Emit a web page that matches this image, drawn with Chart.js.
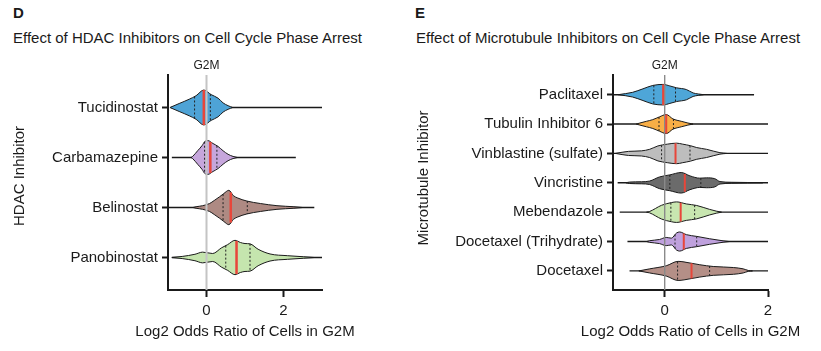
<!DOCTYPE html>
<html>
<head>
<meta charset="utf-8">
<script src="https://cdn.jsdelivr.net/npm/chart.js@4.4.0/dist/chart.umd.min.js"></script>
<style>
  body { margin: 0; background: #fff; font-family: "Liberation Sans", Arial, sans-serif; color: #1a1a1a; }
  #wrap { position: relative; width: 821px; height: 351px; }
  .lbl { position: absolute; font-size: 15px; line-height: 18px; white-space: nowrap; }
  canvas { position: absolute; top: 0; }
</style>
</head>
<body>
<div id="wrap">
  <div class="lbl" style="left:13px;top:4px;font-weight:bold">D</div>
  <div class="lbl" style="left:13px;top:29px">Effect of HDAC Inhibitors on Cell Cycle Phase Arrest</div>
  <div class="lbl" style="left:415px;top:4px;font-weight:bold">E</div>
  <div class="lbl" style="left:416px;top:29px">Effect of Microtubule Inhibitors on Cell Cycle Phase Arrest</div>
  <canvas id="hdac" width="410" height="351" style="left:0"></canvas>
  <canvas id="mt" width="411" height="351" style="left:410px"></canvas>
</div>
<script>
// ---- panel D data
const hdacNames = ["Tucidinostat", "Carbamazepine", "Belinostat", "Panobinostat"];
const hdacMin = [-0.92, -0.9, -1.0, -0.9];
const hdacMax = [3.0, 2.32, 2.8, 3.0];
const hdacQ1 = [-0.31, -0.05, 0.43, 0.5];
const hdacMed = [-0.07, 0.1, 0.63, 0.78];
const hdacQ3 = [0.1, 0.27, 1.06, 1.13];
// density profile of each violin: x positions and relative density
const hdacDensX = [
  [-0.95, -0.71, -0.45, -0.27, -0.07, 0.12, 0.3, 0.43, 0.56, 0.68],
  [-0.4, -0.36, -0.23, -0.11, -0.05, 0.04, 0.17, 0.3, 0.43, 0.56, 0.69, 0.8],
  [-0.35, -0.27, -0.1, 0.08, 0.2, 0.34, 0.45, 0.58, 0.7, 0.8, 1.05, 1.4, 1.83, 2.27, 2.5],
  [-0.9, -0.63, -0.3, -0.1, 0.16, 0.39, 0.55, 0.74, 0.88, 1.0, 1.13, 1.34, 1.65, 2.1, 2.52, 2.8]
];
const hdacDens = [
  [0, 3.7, 7.7, 11, 16.3, 12, 8.7, 4.3, 1.7, 0],
  [0, 1, 6.3, 11.3, 14.7, 15.7, 13, 10.3, 6.3, 3, 1, 0],
  [0, 0.7, 1.7, 3.7, 6.5, 10, 13, 16, 11, 9, 6, 3.7, 1.7, 0.7, 0],
  [0, 1, 3, 5, 3.7, 9, 12, 16, 14, 13, 12.7, 7.7, 3.3, 1.7, 0.7, 0]
];
const hdacColors = ["#4ea3d6", "#c6a6dc", "#ae8a83", "#c5e5ae"];

// ---- panel E data
const mtNames = ["Paclitaxel", "Tubulin Inhibitor 6", "Vinblastine (sulfate)", "Vincristine",
  "Mebendazole", "Docetaxel (Trihydrate)", "Docetaxel"];
const mtMin = [-1.0, -1.0, -1.0, -0.91, -0.87, -0.72, -0.68];
const mtMax = [1.73, 2.0, 2.0, 2.0, 2.0, 2.0, 2.0];
const mtQ1 = [-0.21, -0.11, -0.06, 0.1, 0.12, 0.2, 0.25];
const mtMed = [-0.03, 0.03, 0.21, 0.39, 0.31, 0.37, 0.52];
const mtQ3 = [0.21, 0.17, 0.49, 0.7, 0.58, 0.62, 0.87];
const mtDensX = [
  [-0.9, -0.62, -0.42, -0.23, -0.03, 0.1, 0.23, 0.42, 0.55, 0.65, 0.75],
  [-0.55, -0.48, -0.35, -0.23, -0.1, 0.03, 0.16, 0.32, 0.45, 0.55],
  [-0.95, -0.7, -0.45, -0.29, -0.13, 0.05, 0.23, 0.35, 0.5, 0.62, 0.81, 1.07, 1.2],
  [-0.75, -0.68, -0.45, -0.29, -0.1, 0.1, 0.32, 0.49, 0.68, 0.81, 0.97, 1.07, 1.3, 1.6, 1.9],
  [-0.35, -0.29, -0.06, 0.13, 0.23, 0.42, 0.62, 0.87, 1.0, 1.1],
  [-0.35, -0.29, -0.1, 0.03, 0.13, 0.23, 0.29, 0.42, 0.62, 0.87, 1.13, 1.25],
  [-0.5, -0.29, 0.03, 0.26, 0.49, 0.68, 0.94, 1.33, 1.52, 1.62, 1.7]
];
const mtDens = [
  [0, 2.3, 5.7, 9, 10, 8.5, 6.7, 5, 1.7, 0.7, 0],
  [0, 1, 2.7, 4.3, 7, 9.3, 5, 2.7, 1, 0],
  [0, 2, 2.5, 4, 7.3, 9, 10, 9, 7.5, 5.7, 4, 0.7, 0],
  [0, 0.7, 1, 1.7, 5.7, 7.7, 10, 6.7, 4.5, 4.8, 4, 1.2, 0.5, 0.3, 0],
  [0, 0.7, 6.7, 9.3, 10, 8, 6.5, 2.7, 1, 0],
  [0, 0.8, 2, 4, 3.3, 8.3, 9.3, 6.7, 5, 2.7, 0.7, 0],
  [0, 2, 5, 9.3, 7.7, 6, 4.3, 3.3, 2, 0.4, 0]
];
const mtColors = ["#4ea6d8", "#f8ae46", "#bdbdbd", "#6b6b6b", "#c8e6b0", "#bfa1dd", "#b48f87"];

const FONT = '"Liberation Sans", Arial, sans-serif';
const INK = "#1a1a1a";

function interp(xs, ds, v) {
  if (v <= xs[0] || v >= xs[xs.length - 1]) return 0;
  for (let j = 1; j < xs.length; j++) {
    if (v <= xs[j]) {
      const t = (v - xs[j - 1]) / (xs[j] - xs[j - 1]);
      return ds[j - 1] + t * (ds[j] - ds[j - 1]);
    }
  }
  return 0;
}

function buildSets(names, xsAll, dsAll, mins, maxs, q1, med, q3, colors, half, ref, yMin, yMax, medW) {
  const peak = Math.max(...dsAll.flat());
  const k = half / peak;
  const sets = [];
  names.forEach((n, i) => {
    const xs = xsAll[i], ds = dsAll[i];
    sets.push({ data: [{ x: mins[i], y: i }, { x: maxs[i], y: i }], borderColor: INK, borderWidth: 1.4, order: 6 });
    sets.push({ data: xs.map((x, j) => ({ x: x, y: i - ds[j] * k })), borderColor: INK, borderWidth: 1,
      cubicInterpolationMode: "monotone", order: 5 });
    sets.push({ data: xs.map((x, j) => ({ x: x, y: i + ds[j] * k })), borderColor: INK, borderWidth: 1,
      cubicInterpolationMode: "monotone", backgroundColor: colors[i], fill: "-1", order: 5 });
    [q1[i], q3[i]].forEach(q => {
      const h = interp(xs, ds, q) * k;
      sets.push({ data: [{ x: q, y: i - h }, { x: q, y: i + h }], borderColor: "#222", borderWidth: 1,
        borderDash: [2, 2], order: 2 });
    });
    const hm = interp(xs, ds, med[i]) * k;
    sets.push({ data: [{ x: med[i], y: i - hm }, { x: med[i], y: i + hm }], borderColor: "#e8463a",
      borderWidth: medW, order: 1 });
  });
  sets.push({ data: [{ x: 0, y: yMin }, { x: 0, y: yMax }], borderColor: ref.color, borderWidth: ref.width, order: 3 });
  return sets;
}

// G2M label plus axis titles (drawn here so they are not squeezed to the axis width)
const axisText = {
  id: "axisText",
  afterDraw(chart, args, opts) {
    const ctx = chart.ctx;
    const area = chart.chartArea;
    ctx.save();
    ctx.fillStyle = INK;
    ctx.textAlign = "center";
    ctx.textBaseline = "middle";
    ctx.font = "12px " + FONT;
    ctx.fillText("G2M", chart.scales.x.getPixelForValue(0), area.top - 9);
    ctx.font = "15px " + FONT;
    ctx.fillText("Log2 Odds Ratio of Cells in G2M", (area.left + area.right) / 2, 332);
    ctx.translate(opts.yTitleX, opts.yTitleY);
    ctx.rotate(-Math.PI / 2);
    ctx.fillText(opts.yTitle, 0, 0);
    ctx.restore();
  }
};

function makeChart(id, names, sets, xMin, xMax, yMin, yMax, yWidth, padRight, yTitle, yTitleX, yTitleY) {
  return new Chart(document.getElementById(id), {
    type: "scatter",
    data: { datasets: sets },
    options: {
      responsive: false,
      animation: false,
      showLine: true,
      layout: { padding: { top: 75, right: padRight, left: 0, bottom: 0 } },
      elements: { point: { radius: 0, hoverRadius: 0 }, line: { fill: false } },
      plugins: {
        legend: { display: false },
        tooltip: { enabled: false },
        axisText: { yTitle: yTitle, yTitleX: yTitleX, yTitleY: yTitleY }
      },
      scales: {
        x: {
          type: "linear", min: xMin, max: xMax,
          afterBuildTicks: a => { a.ticks = [{ value: 0 }, { value: 2 }]; },
          afterFit: s => { s.height = 61; },
          grid: { drawOnChartArea: false, tickLength: 7, tickWidth: 2, tickColor: INK },
          border: { color: INK, width: 2 },
          ticks: { color: INK, font: { size: 15, family: FONT }, padding: 5, maxRotation: 0 }
        },
        y: {
          type: "linear", reverse: true, min: yMin, max: yMax,
          afterBuildTicks: a => { a.ticks = names.map((n, i) => ({ value: i })); },
          afterFit: s => { s.width = yWidth; },
          grid: { drawOnChartArea: false, tickLength: 6, tickWidth: 2, tickColor: INK },
          border: { color: INK, width: 2 },
          ticks: { color: INK, font: { size: 15, family: FONT }, padding: 4, callback: v => names[v] }
        }
      }
    },
    plugins: [axisText]
  });
}

makeChart("hdac", hdacNames,
  buildSets(hdacNames, hdacDensX, hdacDens, hdacMin, hdacMax, hdacQ1, hdacMed, hdacQ3, hdacColors,
    0.35, { color: "#c4c4c4", width: 2 }, -0.65, 3.65, 2.5),
  -1, 3, -0.65, 3.65, 168, 88, "HDAC Inhibitor", 20, 176);

makeChart("mt", mtNames,
  buildSets(mtNames, mtDensX, mtDens, mtMin, mtMax, mtQ1, mtMed, mtQ3, mtColors,
    0.35, { color: "#8a8a8a", width: 1 }, -0.67, 6.65, 2),
  -1, 2, -0.67, 6.65, 203, 53, "Microtubule Inhibitor", 14, 178);
</script>
</body>
</html>
